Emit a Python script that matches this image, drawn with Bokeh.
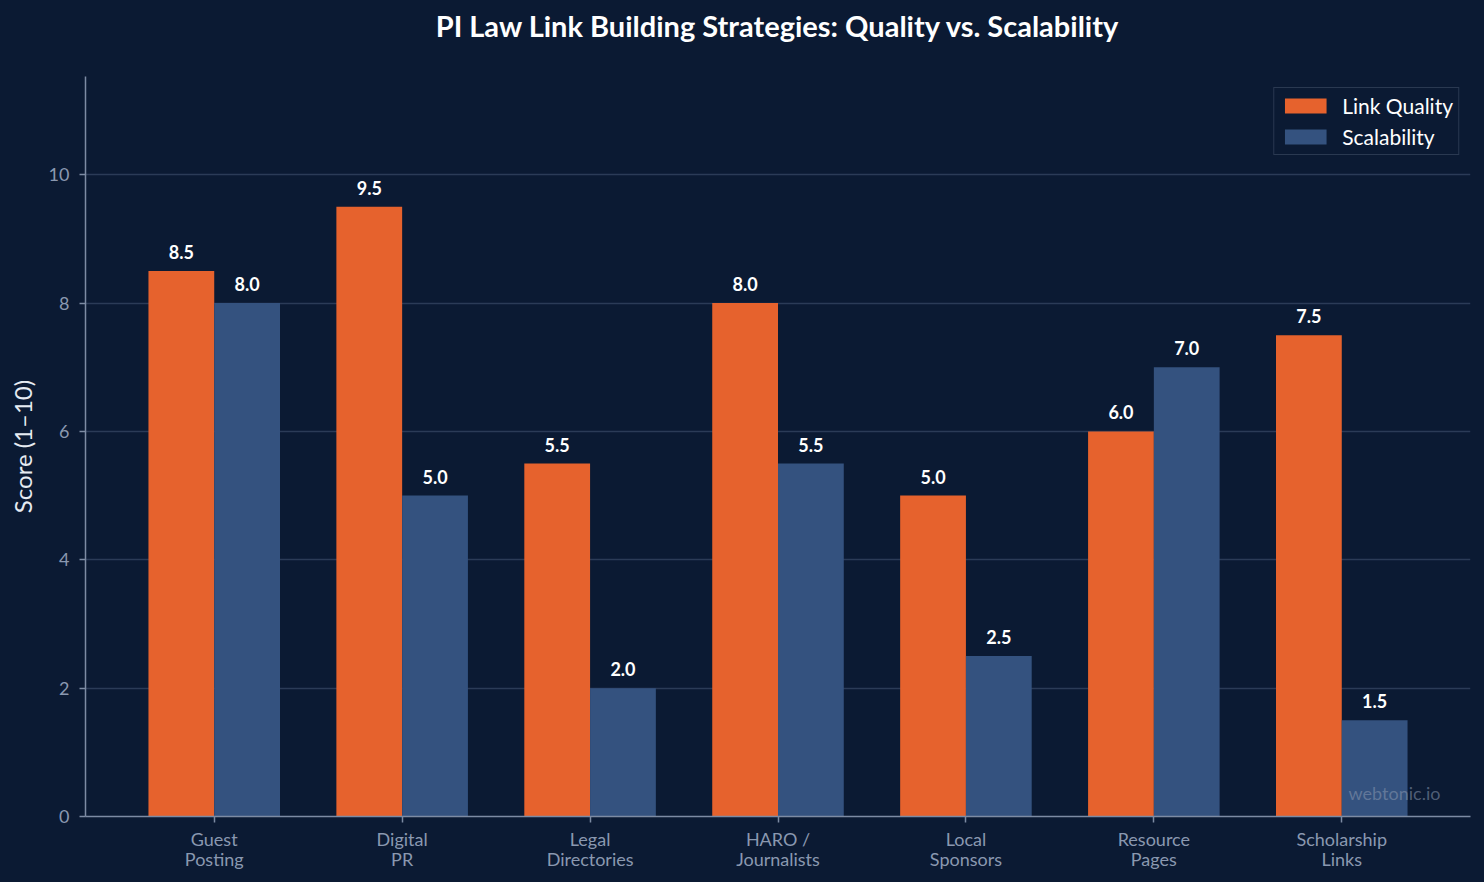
from bokeh.plotting import figure
from bokeh.models import ColumnDataSource, Range1d, FixedTicker, Legend, LegendItem, Label, Title
from bokeh.transform import dodge
from bokeh.embed import file_html
from bokeh.resources import INLINE

title_text = "PI Law Link Building Strategies: Quality vs. Scalability"
categories = ["Guest\nPosting", "Digital\nPR", "Legal\nDirectories", "HARO /\nJournalists",
              "Local\nSponsors", "Resource\nPages", "Scholarship\nLinks"]
link_quality = [8.5, 9.5, 5.5, 8.0, 5.0, 6.0, 7.5]
scalability = [8.0, 5.0, 2.0, 5.5, 2.5, 7.0, 1.5]
y_ticks = [0, 2, 4, 6, 8, 10]

BG = "#0b1a33"
ORANGE = "#e6622d"
BLUE = "#34527f"
FONT = "Lato"

W, H = 1484, 882
ML, MR, MT, MB = 85, 14, 76, 66

xs = list(range(len(categories)))
src = ColumnDataSource(dict(
    x=xs, q=link_quality, s=scalability,
    ql=[f"{v:.1f}" for v in link_quality],
    sl=[f"{v:.1f}" for v in scalability],
))

p = figure(width=W, height=H, output_backend="svg", toolbar_location=None, title=None,
           x_range=Range1d(-0.685, 6.685), y_range=Range1d(0, 11.53),
           min_border_left=ML, min_border_right=MR, min_border_top=MT, min_border_bottom=MB,
           background_fill_color=None, border_fill_color=None)
p.outline_line_color = None
p.styles = {"background-color": BG}

# spacer (closest to the frame) and real title above it
p.add_layout(Title(text=" ", text_font_size="1px", standoff=26, text_color=BG), "above")
p.add_layout(Title(text=title_text, align="center", text_font=FONT, text_font_style="bold",
                   text_font_size="29px", text_color="#ffffff", standoff=10), "above")

rq = p.vbar(x=dodge("x", -0.175), top="q", width=0.35, source=src, fill_color=ORANGE, line_color=None)
rs = p.vbar(x=dodge("x", 0.175), top="s", width=0.35, source=src, fill_color=BLUE, line_color=None)

for col, lab, off in (("q", "ql", -0.175), ("s", "sl", 0.175)):
    p.text(x=dodge("x", off), y=col, text=lab, source=src, text_align="center",
           text_baseline="middle", y_offset=-19, text_color="#ffffff",
           text_font_size="18px", text_font_style="bold", text_font={"value": FONT})

# axes
p.xaxis.ticker = FixedTicker(ticks=xs)
p.xaxis.major_label_overrides = {i: c for i, c in enumerate(categories)}
p.yaxis.ticker = FixedTicker(ticks=y_ticks)
for ax in (p.xaxis, p.yaxis):
    ax.axis_line_color = "#7d8ba3"
    ax.axis_line_width = 1.5
    ax.major_tick_line_color = "#7d8ba3"
    ax.major_tick_line_width = 1.5
    ax.major_tick_out = 6
    ax.major_tick_in = 0
    ax.minor_tick_line_color = None
    ax.major_label_text_color = "#8a98b0"
    ax.major_label_text_font = FONT
    ax.major_label_text_font_size = "18px"
p.xaxis.major_label_text_line_height = 0.95
p.xaxis.major_label_standoff = 5
p.yaxis.major_label_standoff = 10
p.yaxis.axis_label = "Score (1–10)"
p.yaxis.axis_label_text_font = FONT
p.yaxis.axis_label_text_font_style = "normal"
p.yaxis.axis_label_text_font_size = "24px"
p.yaxis.axis_label_text_color = "#e6ebf2"
p.yaxis.axis_label_standoff = 9

p.xgrid.grid_line_color = None
p.ygrid.grid_line_color = "#2b3b57"
p.ygrid.grid_line_width = 1.5

legend = Legend(items=[LegendItem(label="Link Quality", renderers=[rq]),
                       LegendItem(label="Scalability", renderers=[rs])],
                location="top_right", margin=11, padding=5, spacing=6,
                glyph_width=52, glyph_height=19,
                background_fill_color=BG, background_fill_alpha=1.0,
                border_line_color="#4a5870", border_line_width=1.5,
                label_text_color="#ffffff", label_text_font=FONT, label_text_font_size="21px",
                label_standoff=11)
p.add_layout(legend)

p.add_layout(Label(x=6.525, y=0.2, text="webtonic.io", text_align="right", text_baseline="bottom",
                   text_color="#8a98b0", text_alpha=0.55, text_font=FONT, text_font_size="18px"))

open("out.html", "w").write(file_html(p, INLINE))
